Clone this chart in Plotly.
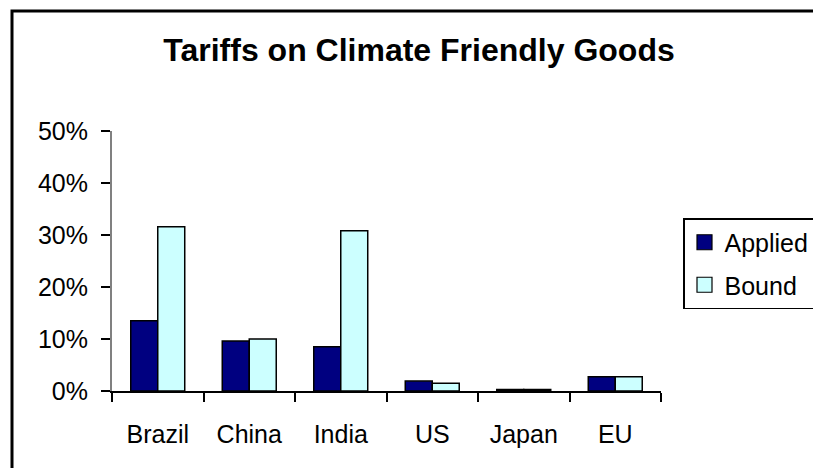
import plotly.graph_objects as go

categories = ["Brazil", "China", "India", "US", "Japan", "EU"]
applied = [0.135, 0.096, 0.085, 0.019, 0.003, 0.0275]
bound = [0.316, 0.100, 0.308, 0.015, 0.003, 0.0275]
y_ticks = [0, 0.1, 0.2, 0.3, 0.4, 0.5]

FONT = "Liberation Sans, Arial, sans-serif"
C_APPLIED = "#000080"
C_BOUND = "#CCFFFF"

fig = go.Figure()
fig.add_trace(go.Bar(x=categories, y=applied, name="Applied", showlegend=False,
                     marker=dict(color=C_APPLIED, line=dict(color="black", width=1.5))))
fig.add_trace(go.Bar(x=categories, y=bound, name="Bound", showlegend=False,
                     marker=dict(color=C_BOUND, line=dict(color="black", width=1.5))))
# legend entries (square swatches)
for nm, col, grp in [("Applied", C_APPLIED, "a"), ("Bound", C_BOUND, "b")]:
    fig.add_trace(go.Scatter(x=[None], y=[None], mode="markers", name=nm, legendgroup=grp,
                             marker=dict(symbol="square", size=15, color=col,
                                         line=dict(color="black", width=1.2))))

L, R, T, B = 112, 661, 131, 391
W, H = 813, 468
pw, ph = R - L, B - T

def px(x):
    return (x - L) / pw

def py(y):
    return (B - y) / ph

fig.update_layout(
    width=W, height=H,
    margin=dict(l=L, r=W - R, t=T, b=H - B, pad=0, autoexpand=False),
    paper_bgcolor="white", plot_bgcolor="white",
    font=dict(family=FONT, size=25, color="black"),
    barmode="group", bargap=0.41, bargroupgap=0,
    title=dict(text="<b>Tariffs on Climate Friendly Goods</b>", x=px(419), xanchor="center",
               xref="paper", y=1 - 50 / H, yanchor="middle",
               font=dict(family=FONT, size=32, color="black")),
    legend=dict(x=px(683), xanchor="left", y=py(218), yanchor="top",
                bordercolor="black", borderwidth=1.5, bgcolor="white",
                font=dict(family=FONT, size=25, color="black"),
                tracegroupgap=7, traceorder="grouped", itemsizing="trace"),
    xaxis=dict(type="category", showline=True, linecolor="black", linewidth=1.5,
               ticks="outside", tickson="boundaries", ticklen=9, tickcolor="black",
               tickwidth=1.5, showgrid=False, tickfont=dict(size=25),
               ticklabelstandoff=20, automargin=False),
    yaxis=dict(range=[0, 0.5], tickvals=y_ticks, tickformat=".0%", showline=True,
               linecolor="#808080", linewidth=2, ticks="outside", ticklen=9,
               tickcolor="black", tickwidth=1.5, showgrid=False, zeroline=False,
               ticklabelstandoff=8, tickfont=dict(size=25), automargin=False),
    shapes=[dict(type="rect", xref="paper", yref="paper",
                 x0=px(12), x1=px(830), y0=py(11), y1=py(490),
                 line=dict(color="black", width=3), fillcolor="rgba(0,0,0,0)")],
)

fig.write_html("out.html")
